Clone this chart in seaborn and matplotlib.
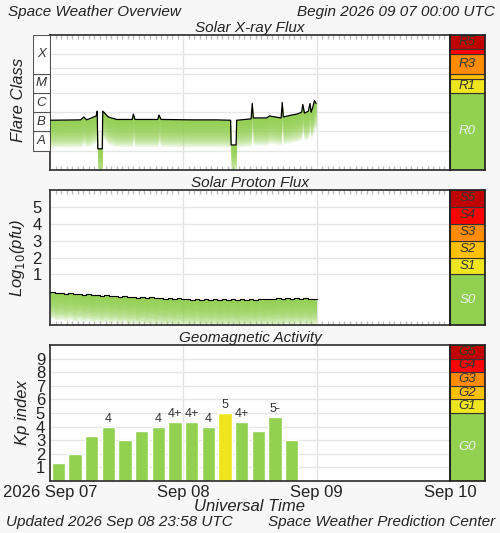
import matplotlib
matplotlib.use("Agg")
import matplotlib.pyplot as plt
import seaborn as sns
import numpy as np
from matplotlib.patches import Rectangle

sns.set_theme(style="white")
plt.rcParams['font.family'] = ['Liberation Sans', 'DejaVu Sans']

# ---- data ----
xray_hours = [0, 5.5, 6.1, 6.6, 8.3, 8.5, 8.6, 9.4, 9.5, 10.5, 12, 14.8, 15.0, 15.3, 19.4, 19.6, 20.0,
              26, 30, 32.5, 32.6, 33.5, 33.6, 36.2, 36.4, 36.6, 39, 39.5, 41.6, 41.8, 42.0, 43.5, 44.5,
              45.3, 45.5, 45.8, 46.5, 46.8, 47.0, 47.3, 47.6, 47.9]
xray_log = [-6.42, -6.40, -6.25, -6.40, -6.20, -5.95, -7.9, -7.9, -5.95, -6.25, -6.38, -6.38, -6.1, -6.38,
            -6.38, -6.15, -6.38, -6.40, -6.40, -6.42, -7.7, -7.7, -6.42, -6.35, -5.55, -6.30, -6.3, -6.2,
            -6.3, -5.50, -6.25, -6.15, -6.1, -6.0, -5.6, -6.05, -5.95, -5.55, -6.0, -5.75, -5.4, -5.55]

proton_log = [-0.05, -0.12, -0.08, -0.15, -0.10, -0.18, -0.14, -0.20, -0.17, -0.25, -0.22, -0.28, -0.24,
              -0.30, -0.27, -0.33, -0.29, -0.36, -0.32, -0.38, -0.35, -0.40, -0.37, -0.42, -0.39, -0.44,
              -0.41, -0.46, -0.42, -0.47, -0.44, -0.49, -0.45, -0.50, -0.47, -0.51, -0.47, -0.52, -0.48,
              -0.51, -0.47, -0.52, -0.48, -0.50, -0.46, -0.50, -0.45, -0.48, -0.44, -0.47, -0.42, -0.46,
              -0.41, -0.45, -0.40, -0.44, -0.41, -0.46, -0.43, -0.47]

kp_values = [1.33, 2.0, 3.33, 4.0, 3.0, 3.67, 4.0, 4.33, 4.33, 4.0, 5.0, 4.33, 3.67, 4.67, 3.0]
kp_labels = ["", "", "", "4", "", "", "4", "4+", "4+", "4", "5", "4+", "", "5-", ""]

day_ticks = [0, 24, 48, 72]
day_labels = ["2026 Sep 07", "Sep 08", "Sep 09", "Sep 10"]

GREEN = "#92d050"
W, H = 500, 533
fig = plt.figure(figsize=(5, 5.33), dpi=100, facecolor="#f7f7f7")

def ax_px(x0, y0, x1, y1):
    return fig.add_axes([x0 / W, 1 - y1 / H, (x1 - x0) / W, (y1 - y0) / H])

def style_main(ax, ylim):
    ax.set_xlim(0, 72)
    ax.set_ylim(*ylim)
    ax.set_facecolor("white")
    for s in ax.spines.values():
        s.set_color("#333333")
    ax.set_xticks(day_ticks)
    ax.set_xticklabels([])
    ax.set_xticks(np.arange(0, 73, 1), minor=True)
    ax.tick_params(which="minor", direction="in", length=3, color="#bbbbbb", top=True, bottom=True)
    ax.tick_params(which="major", length=0)
    for d in [24, 48]:
        ax.axvline(d, color="#e3e3e3", lw=1, zorder=0)

def gradient_fill(ax, x, y, depth, step=None, n=16, a=0.17):
    y = np.asarray(y)
    for k in range(n):
        ax.fill_between(x, y, y - (k + 1) * depth / n, step=step,
                        color=GREEN, alpha=a, lw=0, zorder=1)

def side_bar(ax, bands, ylim):
    ax.set_xlim(0, 1)
    ax.set_ylim(*ylim)
    ax.set_xticks([]); ax.set_yticks([])
    for s in ax.spines.values():
        s.set_color("#222222")
    for lo, hi, col, lab, tcol in bands:
        ax.add_patch(Rectangle((0, lo), 1, hi - lo, facecolor=col, edgecolor="#333333", lw=0.8, zorder=1))
    for lo, hi, col, lab, tcol in bands:
        if lab:
            ax.text(0.5, (lo + hi) / 2, lab, ha="center", va="center", fontsize=9.5,
                    style="italic", color=tcol, zorder=5)

# ---- titles ----
fig.text(8 / W, 1 - 12 / H, "Space Weather Overview", fontsize=11, style="italic", va="center", color="#222")
fig.text(495 / W, 1 - 12 / H, "Begin 2026 09 07 00:00 UTC", fontsize=11, style="italic", va="center", ha="right", color="#222")

# ---- X-ray panel ----
ax1 = ax_px(50, 35, 450, 170)
style_main(ax1, (-9, -2))
for g in [-8, -7, -6, -5, -4, -3.7, -3]:
    ax1.axhline(g, color="#e6e6e6", lw=1, zorder=0)
ax1.set_yticks([])
gradient_fill(ax1, xray_hours, xray_log, 1.4)
ax1.plot(xray_hours, xray_log, color="black", lw=0.9, zorder=3)
ax1.set_title("Solar X-ray Flux", fontsize=11, style="italic", pad=2, color="#222")

axc = ax_px(33, 35, 50, 170)
axc.set_xlim(0, 1); axc.set_ylim(-9, -2); axc.axis("off")
for lo, hi, lab in [(-8, -7, "A"), (-7, -6, "B"), (-6, -5, "C"), (-5, -4, "M"), (-4, -2, "X")]:
    axc.add_patch(Rectangle((0, lo), 1, hi - lo, facecolor="white", edgecolor="#555", lw=0.8))
    axc.text(0.5, (lo + hi) / 2, lab, ha="center", va="center", fontsize=9.5, style="italic", color="#333")
fig.text(19 / W, 1 - 100 / H, "Flare Class", rotation=90, fontsize=12, style="italic", ha="center", va="center", color="#222")

axr = ax_px(450, 35, 485, 170)
side_bar(axr, [(-9, -5, GREEN, "R0", "#eeeeee"), (-5, -4.3, "#eee51e", "R1", "#333"),
               (-4.3, -4, "#ffc000", "", "#333"), (-4, -3, "#ff8c00", "R3", "#333"),
               (-3, -2.7, "#ff0000", "", "#333"), (-2.7, -2, "#c00000", "R5", "#333")], (-9, -2))

# ---- Proton panel ----
ax2 = ax_px(50, 190, 450, 325)
style_main(ax2, (-2, 6))
for g in [1, 2, 3, 4, 5]:
    ax2.axhline(g, color="#e6e6e6", lw=1, zorder=0)
ax2.set_yticks([1, 2, 3, 4, 5])
ax2.set_yticklabels(["1", "2", "3", "4", "5"], fontsize=12, color="#222")
ax2.tick_params(axis="y", pad=6)
ph = np.linspace(0, 48, len(proton_log))
gradient_fill(ax2, ph, proton_log, 1.6, step="post")
ax2.step(ph, proton_log, where="post", color="black", lw=0.8, zorder=3)
ax2.set_title("Solar Proton Flux", fontsize=11, style="italic", pad=2, color="#222")
ax2.set_ylabel(r"Log$_{10}$(pfu)", fontsize=12, style="italic", color="#222", labelpad=4)

axr2 = ax_px(450, 190, 485, 325)
side_bar(axr2, [(-2, 1, GREEN, "S0", "#eeeeee"), (1, 2, "#eee51e", "S1", "#333"),
                (2, 3, "#ffc000", "S2", "#333"), (3, 4, "#ff8c00", "S3", "#333"),
                (4, 5, "#ff0000", "S4", "#333"), (5, 6, "#c00000", "S5", "#333")], (-2, 6))

# ---- Kp panel ----
ax3 = ax_px(50, 345, 450, 481)
style_main(ax3, (0, 10))
ax3.tick_params(which="minor", length=0)
for g in range(1, 10):
    ax3.axhline(g, color="#e6e6e6", lw=1, zorder=0)
kp_x = np.arange(len(kp_values)) * 3 + 1.5
colors = ["#eee51e" if v >= 5 else GREEN for v in kp_values]
ax3.bar(kp_x, kp_values, width=2.4, color=colors, zorder=2)
for xx, v, lab in zip(kp_x, kp_values, kp_labels):
    if lab:
        ax3.text(xx, v + 0.15, lab, ha="center", va="bottom", fontsize=9, color="#333")
ax3.set_yticks(range(1, 10))
ax3.set_yticklabels([str(i) for i in range(1, 10)], fontsize=12, color="#222")
ax3.set_xticklabels(day_labels, fontsize=12, color="#222")
ax3.tick_params(axis="x", pad=3)
ax3.set_title("Geomagnetic Activity", fontsize=11, style="italic", pad=2, color="#222")
ax3.set_ylabel("Kp index", fontsize=12, style="italic", color="#222", labelpad=4)
ax3.set_xlabel("Universal Time", fontsize=12, style="italic", color="#222", labelpad=-1)

axr3 = ax_px(450, 345, 485, 481)
side_bar(axr3, [(0, 5, GREEN, "G0", "#eeeeee"), (5, 6, "#eee51e", "G1", "#333"),
                (6, 7, "#ffc000", "G2", "#333"), (7, 8, "#ff8c00", "G3", "#333"),
                (8, 9, "#ff0000", "G4", "#333"), (9, 10, "#c00000", "G5", "#333")], (0, 10))

fig.text(6 / W, 1 - 522 / H, "Updated 2026 Sep 08 23:58 UTC", fontsize=11, style="italic", va="center", color="#222")
fig.text(495 / W, 1 - 522 / H, "Space Weather Prediction Center", fontsize=11, style="italic", va="center", ha="right", color="#222")

fig.savefig("out.png", dpi=100, facecolor=fig.get_facecolor())
